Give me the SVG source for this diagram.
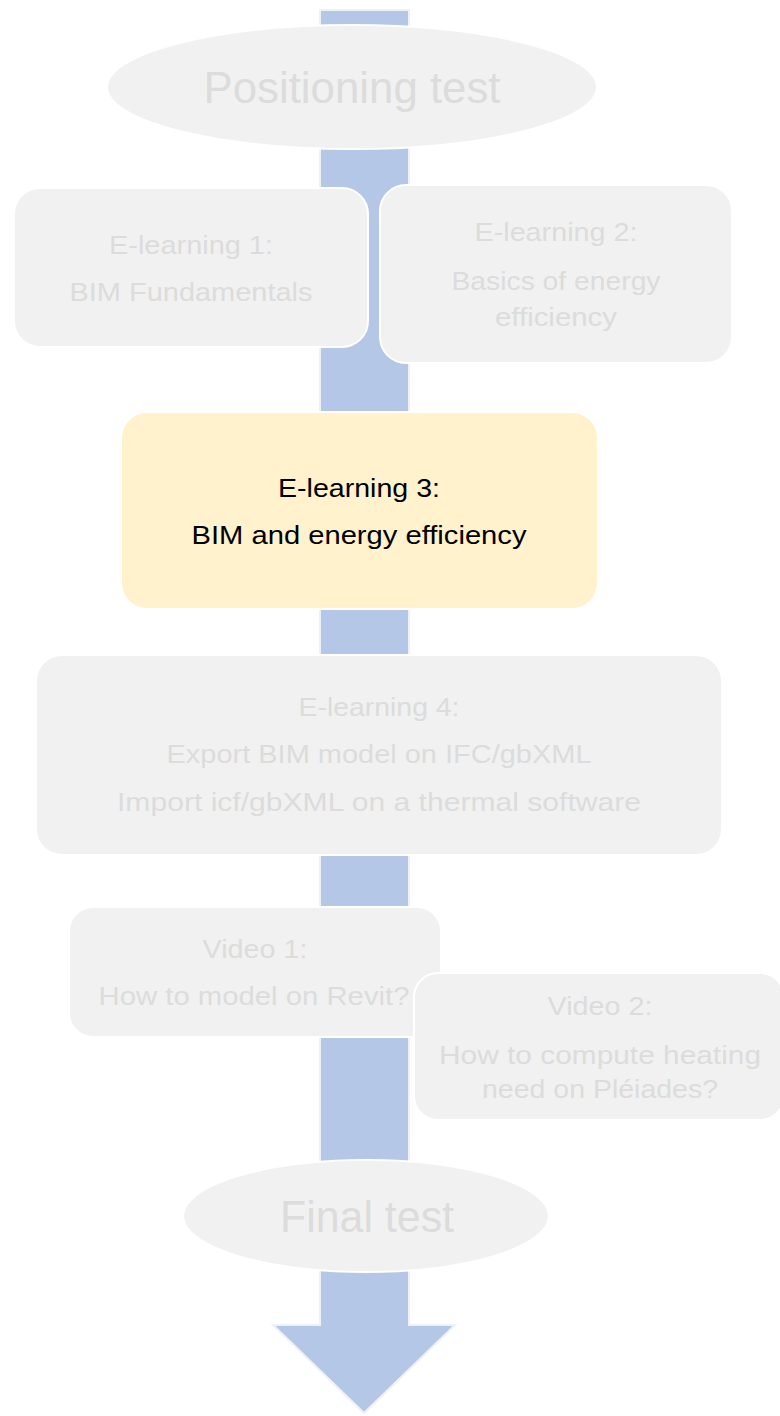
<svg xmlns="http://www.w3.org/2000/svg" width="780" height="1416" viewBox="0 0 780 1416">
<style>
.box{fill:#f1f1f1;stroke:#ffffff;stroke-width:2}
.hl{fill:#fff2cc;stroke:#ffffff;stroke-width:2}
.t{font-family:"Liberation Sans",Arial,sans-serif;font-size:26px;fill:#dcdcdc;text-anchor:middle}
.tb{font-family:"Liberation Sans",Arial,sans-serif;font-size:26px;fill:#000000;text-anchor:middle}
.big{font-family:"Liberation Sans",Arial,sans-serif;font-size:44px;fill:#dcdcdc;text-anchor:middle}
.arrow{fill:#b4c7e7;stroke:#eef1f6;stroke-width:2}
</style>
<rect width="780" height="1416" fill="#ffffff"/>
<g id="connectors">
<path class="arrow" d="M320 10 L409 10 L409 1325 L455 1325 L364 1413 L273 1325 L320 1325 Z"/>
</g>
<g id="positioning-test">
<ellipse class="box" cx="352" cy="87" rx="245" ry="62"/>
<text class="big" x="352" y="103" textLength="297" lengthAdjust="spacingAndGlyphs">Positioning test</text>
</g>
<g id="elearning1">
<rect class="box" x="14" y="188" width="354" height="159" rx="26"/>
<text class="t" x="191" y="254" textLength="164" lengthAdjust="spacingAndGlyphs">E-learning 1:</text>
<text class="t" x="191" y="301" textLength="243" lengthAdjust="spacingAndGlyphs">BIM Fundamentals</text>
</g>
<g id="elearning2">
<rect class="box" x="380" y="185" width="352" height="178" rx="26"/>
<text class="t" x="556" y="241" textLength="163" lengthAdjust="spacingAndGlyphs">E-learning 2:</text>
<text class="t" x="556" y="290" textLength="209" lengthAdjust="spacingAndGlyphs">Basics of energy</text>
<text class="t" x="556" y="326" textLength="122" lengthAdjust="spacingAndGlyphs">efficiency</text>
</g>
<g id="elearning3">
<rect class="hl" x="121" y="412" width="477" height="197" rx="26"/>
<text class="tb" x="359" y="497" textLength="162" lengthAdjust="spacingAndGlyphs">E-learning 3:</text>
<text class="tb" x="359" y="544" textLength="335" lengthAdjust="spacingAndGlyphs">BIM and energy efficiency</text>
</g>
<g id="elearning4">
<rect class="box" x="36" y="655" width="686" height="200" rx="26"/>
<text class="t" x="379" y="716" textLength="161" lengthAdjust="spacingAndGlyphs">E-learning 4:</text>
<text class="t" x="379" y="763" textLength="425" lengthAdjust="spacingAndGlyphs">Export BIM model on IFC/gbXML</text>
<text class="t" x="379" y="811" textLength="524" lengthAdjust="spacingAndGlyphs">Import icf/gbXML on a thermal software</text>
</g>
<g id="video1">
<rect class="box" x="69" y="907" width="372" height="130" rx="24"/>
<text class="t" x="255" y="958" textLength="105" lengthAdjust="spacingAndGlyphs">Video 1:</text>
<text class="t" x="254" y="1005" textLength="311" lengthAdjust="spacingAndGlyphs">How to model on Revit?</text>
</g>
<g id="video2">
<rect class="box" x="414" y="973" width="370" height="147" rx="24"/>
<text class="t" x="600" y="1015" textLength="105" lengthAdjust="spacingAndGlyphs">Video 2:</text>
<text class="t" x="600" y="1064" textLength="322" lengthAdjust="spacingAndGlyphs">How to compute heating</text>
<text class="t" x="600" y="1098" textLength="236" lengthAdjust="spacingAndGlyphs">need on Pléiades?</text>
</g>
<g id="final-test">
<ellipse class="box" cx="366" cy="1216" rx="183" ry="56"/>
<text class="big" x="367" y="1232" textLength="174" lengthAdjust="spacingAndGlyphs">Final test</text>
</g>
</svg>
